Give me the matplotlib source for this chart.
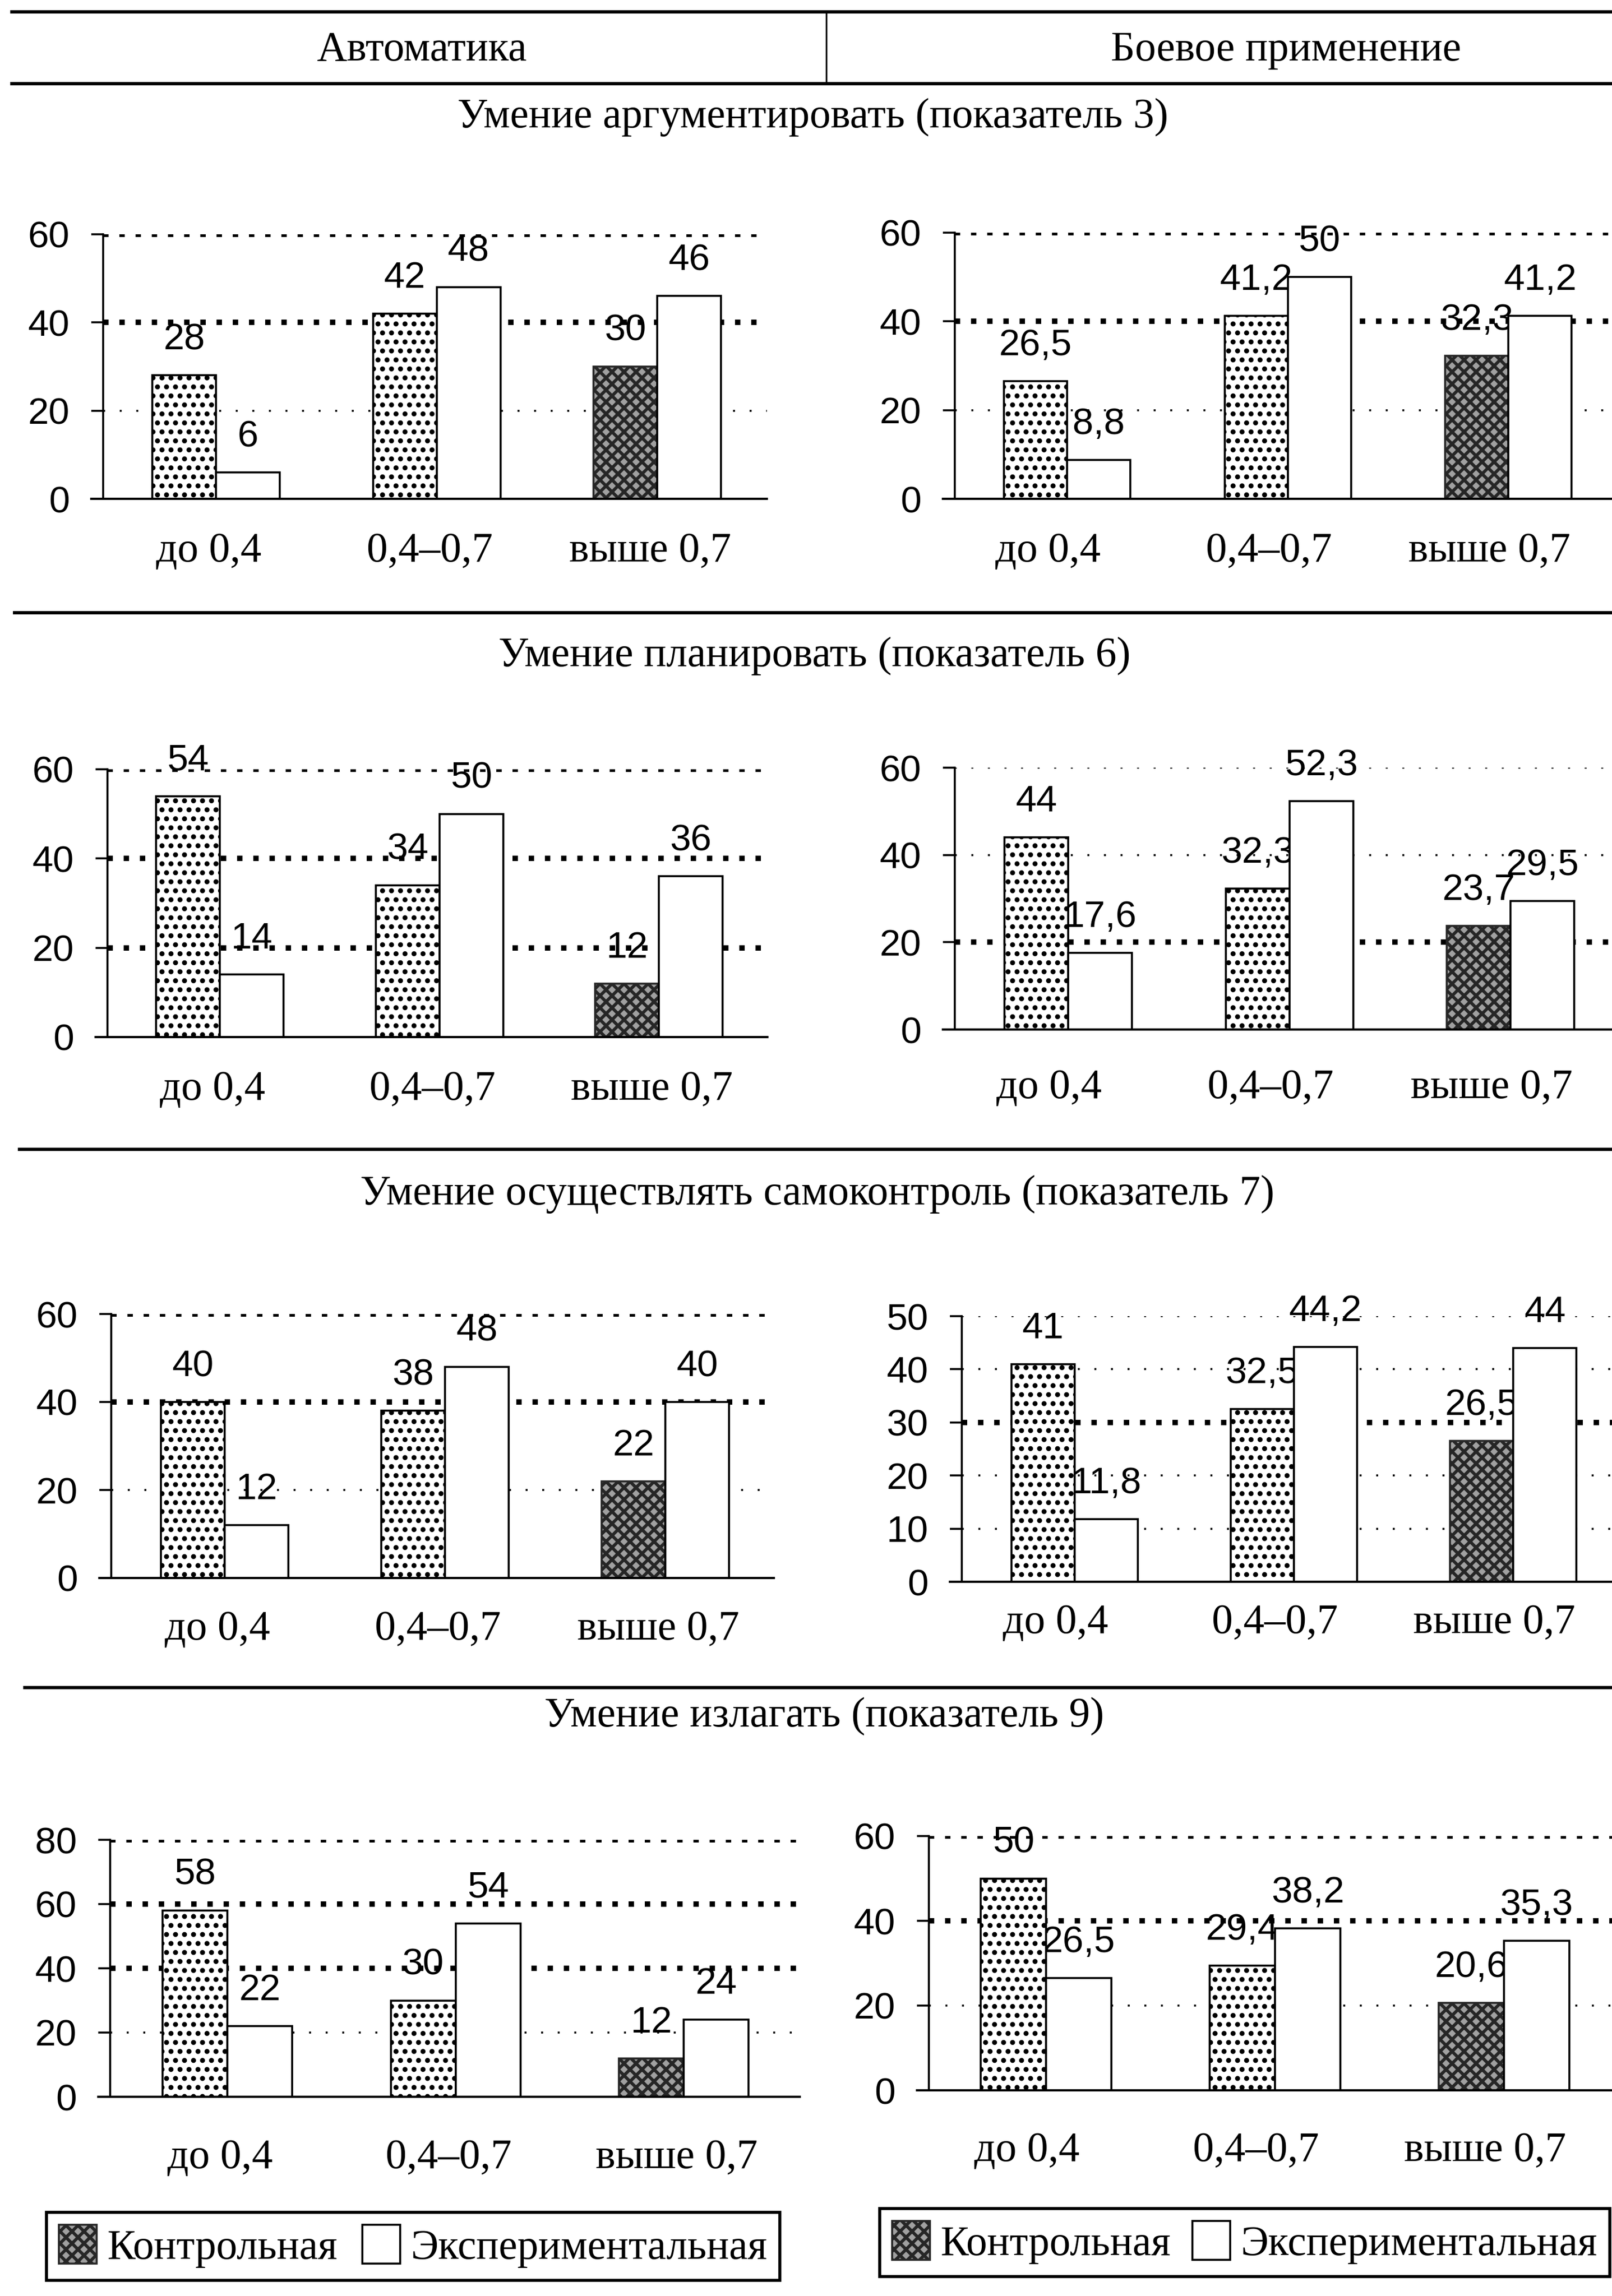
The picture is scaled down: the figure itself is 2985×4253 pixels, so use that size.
import matplotlib
matplotlib.use('Agg')
import matplotlib.pyplot as plt
import matplotlib.transforms as mtransforms
from matplotlib.patches import Patch

plt.rcParams['hatch.linewidth'] = 2.1

W, H, DPI = 2985, 4253, 200
SERIF = ['Liberation Serif', 'DejaVu Serif']
SANS = ['Liberation Sans', 'DejaVu Sans']

# ---------------- data ----------------
categories = ['до 0,4', '0,4–0,7', 'выше 0,7']
column_titles = ['Автоматика', 'Боевое применение']
section_titles = ['Умение аргументировать (показатель 3)',
                  'Умение планировать (показатель 6)',
                  'Умение осуществлять самоконтроль (показатель 7)',
                  'Умение излагать (показатель 9)']
legend_labels = ['Контрольная', 'Экспериментальная']

control_arg_auto = [28, 42, 30]
experim_arg_auto = [6, 48, 46]
control_arg_combat = [26.5, 41.2, 32.3]
experim_arg_combat = [8.8, 50, 41.2]

control_plan_auto = [54, 34, 12]
experim_plan_auto = [14, 50, 36]
control_plan_combat = [44, 32.3, 23.7]
experim_plan_combat = [17.6, 52.3, 29.5]

control_self_auto = [40, 38, 22]
experim_self_auto = [12, 48, 40]
control_self_combat = [41, 32.5, 26.5]
experim_self_combat = [11.8, 44.2, 44]

control_expr_auto = [58, 30, 12]
experim_expr_auto = [22, 54, 24]
control_expr_combat = [50, 29.4, 20.6]
experim_expr_combat = [26.5, 38.2, 35.3]

yticks_60 = [0, 20, 40, 60]
yticks_50 = [0, 10, 20, 30, 40, 50]
yticks_80 = [0, 20, 40, 60, 80]

# ---------------- layout (pixels) ----------------
layouts = [
    dict(A=191, c0=400, c2=1217, bw=118, Z=924, T=434, R=1420, ldx=-13, ldy=97),
    dict(A=1768, c0=1976, c2=2793, bw=117, Z=924, T=431, R=2985, ldx=-35, ldy=97),
    dict(A=199, c0=407, c2=1220, bw=118, Z=1921, T=1425, R=1421, ldx=-13, ldy=97),
    dict(A=1768, c0=1978, c2=2797, bw=118, Z=1907, T=1422, R=2985, ldx=-35, ldy=108),
    dict(A=206, c0=416, c2=1232, bw=118, Z=2923, T=2434, R=1433, ldx=-13, ldy=95),
    dict(A=1781, c0=1990, c2=2802, bw=117, Z=2930, T=2438, R=2985, ldx=-35, ldy=76),
    dict(A=204, c0=421, c2=1266, bw=120, Z=3884, T=3408, R=1481, ldx=-13, ldy=113),
    dict(A=1720, c0=1937, c2=2785, bw=121, Z=3872, T=3401, R=2985, ldx=-35, ldy=112),
]
thick_grid = [
    {60, 40}, {60, 40},
    {60, 40, 20}, {20},
    {60, 40}, {30},
    {80, 60, 40}, {60, 40},
]

charts = [
    (control_arg_auto, experim_arg_auto, yticks_60),
    (control_arg_combat, experim_arg_combat, yticks_60),
    (control_plan_auto, experim_plan_auto, yticks_60),
    (control_plan_combat, experim_plan_combat, yticks_60),
    (control_self_auto, experim_self_auto, yticks_60),
    (control_self_combat, experim_self_combat, yticks_50),
    (control_expr_auto, experim_expr_auto, yticks_80),
    (control_expr_combat, experim_expr_combat, yticks_60),
]

DOT_HATCH = '..'
DARK_HATCH = 'xxx'
DARK_FACE = '#a0a0a0'
DARK_EDGE = '#262626'

NUM_SIZE = 25
SERIF_SIZE = 28

fig = plt.figure(figsize=(W / DPI, H / DPI), dpi=DPI)
fig.patch.set_facecolor('white')

bg = fig.add_axes([0, 0, 1, 1])
bg.set_xlim(0, W)
bg.set_ylim(H, 0)
bg.axis('off')

rule_lw = 2.2
bg.hlines(22, 19, W, colors='black', lw=rule_lw)
bg.hlines(155, 19, W, colors='black', lw=rule_lw)
bg.vlines(1530, 22, 155, colors='black', lw=1.1)
for yy, x0 in [(1135, 24), (2129, 33), (3126, 43)]:
    bg.hlines(yy, x0, W, colors='black', lw=rule_lw)

bg.text(781, 93, column_titles[0], ha='center', va='center', fontsize=SERIF_SIZE, family=SERIF)
bg.text(2381, 93, column_titles[1], ha='center', va='center', fontsize=SERIF_SIZE, family=SERIF)
for (tx, ty), t in zip([(1505, 217), (1508, 1215), (1513, 2212), (1526, 3180)], section_titles):
    bg.text(tx, ty, t, ha='center', va='center', fontsize=SERIF_SIZE, family=SERIF)


def fmt(v):
    return ('%g' % v).replace('.', ',')


def px2pt(p):
    return p * 72.0 / DPI


for (ctrl, exp, yticks), L, thick in zip(charts, layouts, thick_grid):
    A, c0, c2, bw, Z, T, R = L['A'], L['c0'], L['c2'], L['bw'], L['Z'], L['T'], L['R']
    s = (c2 - c0) / 2.0
    left_px = A - 22
    ax = fig.add_axes([left_px / W, 1 - Z / H, (R - left_px) / W, (Z - T) / H])
    ax.set_facecolor('none')
    x0 = (left_px - c0) / s
    x1 = (R - c0) / s
    xa = (A - c0) / s
    ax.set_xlim(x0, x1)
    ax.set_ylim(0, yticks[-1])
    wd = bw / s
    xs = list(range(len(categories)))

    fa = (xa - x0) / (x1 - x0)
    for yv in yticks[1:]:
        if yv in thick:
            ax.axhline(yv, xmin=fa, xmax=1, color='black', lw=3.6,
                       ls=(0, (1, 2.0)), zorder=1)
        else:
            ax.axhline(yv, xmin=fa, xmax=1, color='black', lw=1.3,
                       ls=(0, (1, 7.5)), zorder=1)

    cbars = ax.bar([x - wd / 2 for x in xs], ctrl, wd, facecolor='white',
                   edgecolor='black', lw=1.3, zorder=2)
    for i, p in enumerate(cbars.patches):
        if i == len(xs) - 1:
            p.set_facecolor(DARK_FACE)
            p.set_edgecolor(DARK_EDGE)
            p.set_hatch(DARK_HATCH)
        else:
            p.set_hatch(DOT_HATCH)
    ax.bar([x + wd / 2 for x in xs], exp, wd, facecolor='white',
           edgecolor='black', lw=1.3, zorder=2)

    off = mtransforms.offset_copy(ax.transData, fig=fig, x=0, y=px2pt(48), units='points')
    for x, v in zip(xs, ctrl):
        ax.text(x - wd / 2, v, fmt(v), ha='center', va='baseline', transform=off,
                fontsize=NUM_SIZE, family=SANS, zorder=1.6)
    for x, v in zip(xs, exp):
        ax.text(x + wd / 2, v, fmt(v), ha='center', va='baseline', transform=off,
                fontsize=NUM_SIZE, family=SANS, zorder=1.6)

    lab_tr = mtransforms.offset_copy(ax.get_xaxis_transform(), fig=fig,
                                     x=px2pt(L['ldx']), y=-px2pt(L['ldy']), units='points')
    for x, c in zip(xs, categories):
        ax.text(x, 0, c, ha='center', va='center', transform=lab_tr,
                fontsize=SERIF_SIZE, family=SERIF)

    ax.set_xticks([])
    ax.set_yticks(yticks)
    ax.set_yticklabels([str(t) for t in yticks])
    ax.tick_params(axis='y', direction='out', length=px2pt(22), width=1.3,
                   pad=px2pt(40), labelsize=NUM_SIZE, labelfontfamily='Liberation Sans')
    for sp in ['top', 'right']:
        ax.spines[sp].set_visible(False)
    ax.spines['left'].set_position(('data', xa))
    ax.spines['left'].set_linewidth(1.3)
    ax.spines['bottom'].set_linewidth(1.5)

# legends
handles = [Patch(facecolor=DARK_FACE, edgecolor=DARK_EDGE, hatch=DARK_HATCH, lw=1.3),
           Patch(facecolor='white', edgecolor='black', lw=1.3)]
for (lx, ly, lw_, lh) in [(86, 4098, 1358, 125), (1629, 4091, 1352, 128)]:
    leg = fig.legend(handles, legend_labels, loc='upper left',
                     bbox_to_anchor=(lx / W, 1 - (ly + lh) / H, lw_ / W, lh / H),
                     mode='expand', ncol=2, prop={'family': SERIF, 'size': SERIF_SIZE},
                     handlelength=0.9, handleheight=1.05, handletextpad=0.25,
                     borderpad=0.3, borderaxespad=0, frameon=True, fancybox=False,
                     framealpha=1, edgecolor='black')
    leg.get_frame().set_linewidth(2.0)

fig.savefig('out.png', dpi=DPI, facecolor='white')
